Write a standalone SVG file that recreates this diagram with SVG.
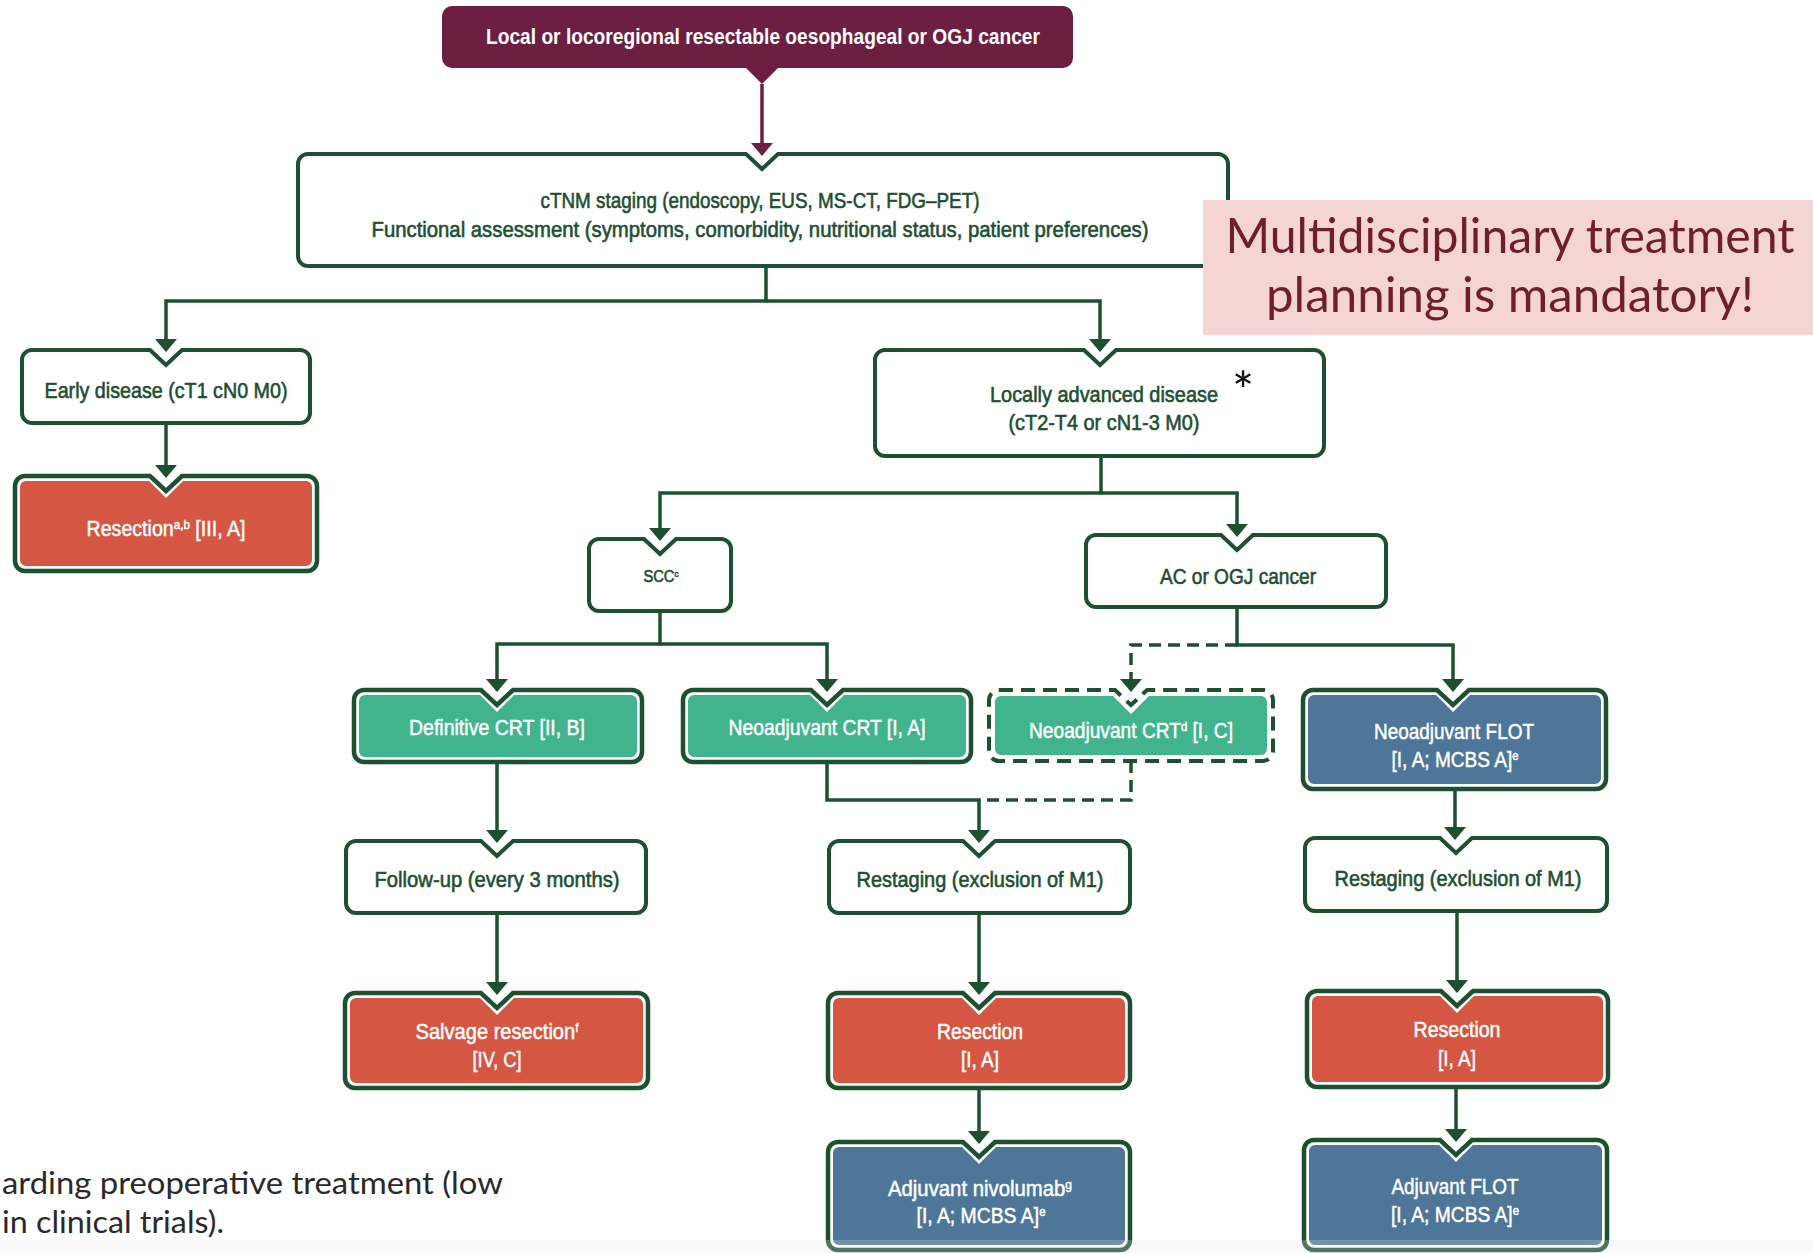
<svg xmlns="http://www.w3.org/2000/svg" width="1813" height="1253" viewBox="0 0 1813 1253">
<defs>
<style>
.box{fill:#fff;stroke:#1d4f31;stroke-width:4}
.outer{fill:#fff;stroke:#1d4f31;stroke-width:4.5}
.dbox{fill:#fff;stroke:#1d4f31;stroke-width:4;stroke-dasharray:14 8}
.teal{fill:#41b48d}.red{fill:#d55642}.blue{fill:#4d7698}
.conn{fill:none;stroke:#1d4f31;stroke-width:3.5;marker-end:url(#ah)}
.plain{fill:none;stroke:#1d4f31;stroke-width:3.5}
.dash{stroke-dasharray:12 7}
.t{font-family:"Liberation Sans Narrow","Liberation Sans",Arial,sans-serif;font-size:22px;text-anchor:middle}
.g{fill:#1d4f31;stroke:#1d4f31;stroke-width:0.6}
.w{fill:#fff;stroke:#fff;stroke-width:0.5}
.sup{font-size:13px}
</style>
<marker id="ah" viewBox="0 0 13 22" refX="11" refY="11" markerWidth="13" markerHeight="22" markerUnits="userSpaceOnUse" orient="auto"><path d="M0,0 L13,11 L0,22 Z" fill="#1d4f31"/></marker>
<marker id="ahm" viewBox="0 0 13 22" refX="11" refY="11" markerWidth="13" markerHeight="22" markerUnits="userSpaceOnUse" orient="auto"><path d="M0,0 L13,11 L0,22 Z" fill="#6d1f42"/></marker>
</defs>
<rect width="1813" height="1253" fill="#fff"/>

<g id="connectors">
<path d="M762,84 V154" fill="none" stroke="#6d1f42" stroke-width="3.5" marker-end="url(#ahm)"/>
<path class="conn" d="M766,266 V301 H166 V350"/>
<path class="conn" d="M766,301 H1100 V350"/>
<path class="conn" d="M166,423 V476"/>
<path class="conn" d="M1101,456 V493 H660 V539"/>
<path class="conn" d="M1101,493 H1237 V535"/>
<path class="conn" d="M660,611 V644 H497 V690"/>
<path class="conn" d="M660,644 H827 V690"/>
<path class="conn" d="M1237,607 V645 H1453 V690"/>
<path class="conn dash" d="M1237,645 H1131 V690"/>
<path class="conn" d="M497,762 V841"/>
<path class="conn" d="M827,762 V800 H979 V841"/>
<path class="plain dash" d="M1131,761 V800 H979"/>
<path class="conn" d="M1455,789 V838"/>
<path class="conn" d="M497,913 V993"/>
<path class="conn" d="M979,913 V993"/>
<path class="conn" d="M1457,911 V991"/>
<path class="conn" d="M979,1088 V1142"/>
<path class="conn" d="M1456,1087 V1140"/>
</g>

<g id="n-top">
<path d="M452,6 H1063 A10 10 0 0 1 1073,16 V58 A10 10 0 0 1 1063,68 H778 L762,84 L746,68 H452 A10 10 0 0 1 442,58 V16 A10 10 0 0 1 452,6 Z" fill="#6d1f42"/>
<text class="t" fill="#fff" x="763" y="44" font-weight="bold" textLength="554" lengthAdjust="spacingAndGlyphs">Local or locoregional resectable oesophageal or OGJ cancer</text>
</g>

<g id="n-staging">
<path class="box" d="M308,154 H746 L762,169 L778,154 H1218 A10 10 0 0 1 1228,164 V256 A10 10 0 0 1 1218,266 H308 A10 10 0 0 1 298,256 V164 A10 10 0 0 1 308,154 Z"/>
<text class="t g" x="760" y="208" textLength="439" lengthAdjust="spacingAndGlyphs">cTNM staging (endoscopy, EUS, MS-CT, FDG–PET)</text>
<text class="t g" x="760" y="237" textLength="777" lengthAdjust="spacingAndGlyphs">Functional assessment (symptoms, comorbidity, nutritional status, patient preferences)</text>
</g>

<g id="n-early">
<path class="box" d="M32,350 H150 L166,365 L182,350 H300 A10 10 0 0 1 310,360 V413 A10 10 0 0 1 300,423 H32 A10 10 0 0 1 22,413 V360 A10 10 0 0 1 32,350 Z"/>
<text class="t g" x="166" y="398" textLength="243" lengthAdjust="spacingAndGlyphs">Early disease (cT1 cN0 M0)</text>
</g>

<g id="n-resection-early">
<path class="outer" d="M25,476 H150 L166,491 L182,476 H307 A10 10 0 0 1 317,486 V561 A10 10 0 0 1 307,571 H25 A10 10 0 0 1 15,561 V486 A10 10 0 0 1 25,476 Z"/>
<path class="red" d="M26,481 H149 L166,498 L183,481 H306 A6 6 0 0 1 312,487 V560 A6 6 0 0 1 306,566 H26 A6 6 0 0 1 20,560 V487 A6 6 0 0 1 26,481 Z"/>
<text class="t w" x="166" y="536" textLength="159" lengthAdjust="spacingAndGlyphs">Resection<tspan class="sup" baseline-shift="super">a,b</tspan> [III, A]</text>
</g>

<g id="n-locally">
<path class="box" d="M885,350 H1084 L1100,365 L1116,350 H1314 A10 10 0 0 1 1324,360 V446 A10 10 0 0 1 1314,456 H885 A10 10 0 0 1 875,446 V360 A10 10 0 0 1 885,350 Z"/>
<text class="t g" x="1104" y="402" textLength="228" lengthAdjust="spacingAndGlyphs">Locally advanced disease</text>
<text class="t g" x="1104" y="430" textLength="191" lengthAdjust="spacingAndGlyphs">(cT2-T4 or cN1-3 M0)</text>
<text x="1243" y="410" font-family="Lato, 'Liberation Sans', sans-serif" font-size="52" text-anchor="middle" fill="#111">*</text>
</g>

<g id="n-scc">
<path class="box" d="M599,539 H644 L660,554 L676,539 H721 A10 10 0 0 1 731,549 V601 A10 10 0 0 1 721,611 H599 A10 10 0 0 1 589,601 V549 A10 10 0 0 1 599,539 Z"/>
<text class="t g" x="661" y="582" style="font-size:16px" textLength="35" lengthAdjust="spacingAndGlyphs">SCC<tspan style="font-size:9px" baseline-shift="super">c</tspan></text>
</g>

<g id="n-ac">
<path class="box" d="M1096,535 H1221 L1237,550 L1253,535 H1376 A10 10 0 0 1 1386,545 V597 A10 10 0 0 1 1376,607 H1096 A10 10 0 0 1 1086,597 V545 A10 10 0 0 1 1096,535 Z"/>
<text class="t g" x="1238" y="584" textLength="156" lengthAdjust="spacingAndGlyphs">AC or OGJ cancer</text>
</g>

<g id="n-defcrt">
<path class="outer" d="M364,690 H481 L497,705 L513,690 H632 A10 10 0 0 1 642,700 V752 A10 10 0 0 1 632,762 H364 A10 10 0 0 1 354,752 V700 A10 10 0 0 1 364,690 Z"/>
<path class="teal" d="M365,695 H480 L497,712 L514,695 H631 A6 6 0 0 1 637,701 V751 A6 6 0 0 1 631,757 H365 A6 6 0 0 1 359,751 V701 A6 6 0 0 1 365,695 Z"/>
<text class="t w" x="497" y="735" textLength="176" lengthAdjust="spacingAndGlyphs">Definitive CRT [II, B]</text>
</g>

<g id="n-neocrt">
<path class="outer" d="M693,690 H811 L827,705 L843,690 H961 A10 10 0 0 1 971,700 V752 A10 10 0 0 1 961,762 H693 A10 10 0 0 1 683,752 V700 A10 10 0 0 1 693,690 Z"/>
<path class="teal" d="M694,695 H810 L827,712 L844,695 H960 A6 6 0 0 1 966,701 V751 A6 6 0 0 1 960,757 H694 A6 6 0 0 1 688,751 V701 A6 6 0 0 1 694,695 Z"/>
<text class="t w" x="827" y="735" textLength="197" lengthAdjust="spacingAndGlyphs">Neoadjuvant CRT [I, A]</text>
</g>

<g id="n-neocrt-d">
<path class="dbox" d="M999,690 H1115 L1131,705 L1147,690 H1263 A10 10 0 0 1 1273,700 V751 A10 10 0 0 1 1263,761 H999 A10 10 0 0 1 989,751 V700 A10 10 0 0 1 999,690 Z"/>
<path class="teal" d="M1001,696 H1113 L1131,714 L1149,696 H1261 A6 6 0 0 1 1267,702 V749 A6 6 0 0 1 1261,755 H1001 A6 6 0 0 1 995,749 V702 A6 6 0 0 1 1001,696 Z"/>
<text class="t w" x="1131" y="738" textLength="204" lengthAdjust="spacingAndGlyphs">Neoadjuvant CRT<tspan class="sup" baseline-shift="super">d</tspan> [I, C]</text>
</g>

<g id="n-neoflot">
<path class="outer" d="M1313,690 H1437 L1453,705 L1469,690 H1596 A10 10 0 0 1 1606,700 V779 A10 10 0 0 1 1596,789 H1313 A10 10 0 0 1 1303,779 V700 A10 10 0 0 1 1313,690 Z"/>
<path class="blue" d="M1314,695 H1436 L1453,712 L1470,695 H1595 A6 6 0 0 1 1601,701 V778 A6 6 0 0 1 1595,784 H1314 A6 6 0 0 1 1308,778 V701 A6 6 0 0 1 1314,695 Z"/>
<text class="t w" x="1454" y="739" textLength="160" lengthAdjust="spacingAndGlyphs">Neoadjuvant FLOT</text>
<text class="t w" x="1455" y="767" textLength="127" lengthAdjust="spacingAndGlyphs">[I, A; MCBS A]<tspan class="sup" baseline-shift="super">e</tspan></text>
</g>

<g id="n-followup">
<path class="box" d="M356,841 H481 L497,856 L513,841 H636 A10 10 0 0 1 646,851 V903 A10 10 0 0 1 636,913 H356 A10 10 0 0 1 346,903 V851 A10 10 0 0 1 356,841 Z"/>
<text class="t g" x="497" y="887" textLength="245" lengthAdjust="spacingAndGlyphs">Follow-up (every 3 months)</text>
</g>

<g id="n-restaging-1">
<path class="box" d="M839,841 H963 L979,856 L995,841 H1120 A10 10 0 0 1 1130,851 V903 A10 10 0 0 1 1120,913 H839 A10 10 0 0 1 829,903 V851 A10 10 0 0 1 839,841 Z"/>
<text class="t g" x="980" y="887" textLength="247" lengthAdjust="spacingAndGlyphs">Restaging (exclusion of M1)</text>
</g>

<g id="n-restaging-2">
<path class="box" d="M1315,838 H1440 L1456,853 L1472,838 H1597 A10 10 0 0 1 1607,848 V901 A10 10 0 0 1 1597,911 H1315 A10 10 0 0 1 1305,901 V848 A10 10 0 0 1 1315,838 Z"/>
<text class="t g" x="1458" y="886" textLength="247" lengthAdjust="spacingAndGlyphs">Restaging (exclusion of M1)</text>
</g>

<g id="n-salvage">
<path class="outer" d="M355,993 H481 L497,1008 L513,993 H638 A10 10 0 0 1 648,1003 V1078 A10 10 0 0 1 638,1088 H355 A10 10 0 0 1 345,1078 V1003 A10 10 0 0 1 355,993 Z"/>
<path class="red" d="M356,998 H480 L497,1015 L514,998 H637 A6 6 0 0 1 643,1004 V1077 A6 6 0 0 1 637,1083 H356 A6 6 0 0 1 350,1077 V1004 A6 6 0 0 1 356,998 Z"/>
<text class="t w" x="497" y="1039" textLength="163" lengthAdjust="spacingAndGlyphs">Salvage resection<tspan class="sup" baseline-shift="super">f</tspan></text>
<text class="t w" x="497" y="1067" textLength="49" lengthAdjust="spacingAndGlyphs">[IV, C]</text>
</g>

<g id="n-resection-1">
<path class="outer" d="M838,993 H963 L979,1008 L995,993 H1120 A10 10 0 0 1 1130,1003 V1078 A10 10 0 0 1 1120,1088 H838 A10 10 0 0 1 828,1078 V1003 A10 10 0 0 1 838,993 Z"/>
<path class="red" d="M839,998 H962 L979,1015 L996,998 H1119 A6 6 0 0 1 1125,1004 V1077 A6 6 0 0 1 1119,1083 H839 A6 6 0 0 1 833,1077 V1004 A6 6 0 0 1 839,998 Z"/>
<text class="t w" x="980" y="1039" textLength="86" lengthAdjust="spacingAndGlyphs">Resection</text>
<text class="t w" x="980" y="1067" textLength="38" lengthAdjust="spacingAndGlyphs">[I, A]</text>
</g>

<g id="n-resection-2">
<path class="outer" d="M1317,991 H1441 L1457,1006 L1473,991 H1598 A10 10 0 0 1 1608,1001 V1077 A10 10 0 0 1 1598,1087 H1317 A10 10 0 0 1 1307,1077 V1001 A10 10 0 0 1 1317,991 Z"/>
<path class="red" d="M1318,996 H1440 L1457,1013 L1474,996 H1597 A6 6 0 0 1 1603,1002 V1076 A6 6 0 0 1 1597,1082 H1318 A6 6 0 0 1 1312,1076 V1002 A6 6 0 0 1 1318,996 Z"/>
<text class="t w" x="1457" y="1037" textLength="87" lengthAdjust="spacingAndGlyphs">Resection</text>
<text class="t w" x="1457" y="1066" textLength="38" lengthAdjust="spacingAndGlyphs">[I, A]</text>
</g>

<g id="n-adj-nivo">
<path class="outer" d="M838,1142 H963 L979,1157 L995,1142 H1120 A10 10 0 0 1 1130,1152 V1240 A10 10 0 0 1 1120,1250 H838 A10 10 0 0 1 828,1240 V1152 A10 10 0 0 1 838,1142 Z"/>
<path class="blue" d="M839,1147 H962 L979,1164 L996,1147 H1119 A6 6 0 0 1 1125,1153 V1239 A6 6 0 0 1 1119,1245 H839 A6 6 0 0 1 833,1239 V1153 A6 6 0 0 1 839,1147 Z"/>
<text class="t w" x="980" y="1196" textLength="184" lengthAdjust="spacingAndGlyphs">Adjuvant nivolumab<tspan class="sup" baseline-shift="super">g</tspan></text>
<text class="t w" x="981" y="1223" textLength="129" lengthAdjust="spacingAndGlyphs">[I, A; MCBS A]<tspan class="sup" baseline-shift="super">e</tspan></text>
</g>

<g id="n-adj-flot">
<path class="outer" d="M1314,1140 H1440 L1456,1155 L1472,1140 H1597 A10 10 0 0 1 1607,1150 V1240 A10 10 0 0 1 1597,1250 H1314 A10 10 0 0 1 1304,1240 V1150 A10 10 0 0 1 1314,1140 Z"/>
<path class="blue" d="M1315,1145 H1439 L1456,1162 L1473,1145 H1596 A6 6 0 0 1 1602,1151 V1239 A6 6 0 0 1 1596,1245 H1315 A6 6 0 0 1 1309,1239 V1151 A6 6 0 0 1 1315,1145 Z"/>
<text class="t w" x="1455" y="1194" textLength="127" lengthAdjust="spacingAndGlyphs">Adjuvant FLOT</text>
<text class="t w" x="1455" y="1222" textLength="128" lengthAdjust="spacingAndGlyphs">[I, A; MCBS A]<tspan class="sup" baseline-shift="super">e</tspan></text>
</g>

<g id="callout">
<rect x="1203" y="200" width="610" height="135" fill="#f5d5d3"/>
<text x="1510" y="253" font-family="Lato, 'Open Sans', sans-serif" font-size="48" text-anchor="middle" fill="#6e1f28" textLength="569" lengthAdjust="spacingAndGlyphs">Multidisciplinary treatment</text>
<text x="1510" y="312" font-family="Lato, 'Open Sans', sans-serif" font-size="48" text-anchor="middle" fill="#6e1f28" textLength="488" lengthAdjust="spacingAndGlyphs">planning is mandatory!</text>
</g>

<g id="footnote">
<text x="2" y="1194" font-family="Lato, 'Open Sans', sans-serif" font-size="30" fill="#2a2a2a" textLength="501" lengthAdjust="spacingAndGlyphs">arding preoperative treatment (low</text>
<text x="2" y="1233" font-family="Lato, 'Open Sans', sans-serif" font-size="30" fill="#2a2a2a" textLength="222" lengthAdjust="spacingAndGlyphs">in clinical trials).</text>
</g>
<rect x="0" y="1240" width="1813" height="13" fill="#e8e8e8" opacity="0.25"/>
</svg>
